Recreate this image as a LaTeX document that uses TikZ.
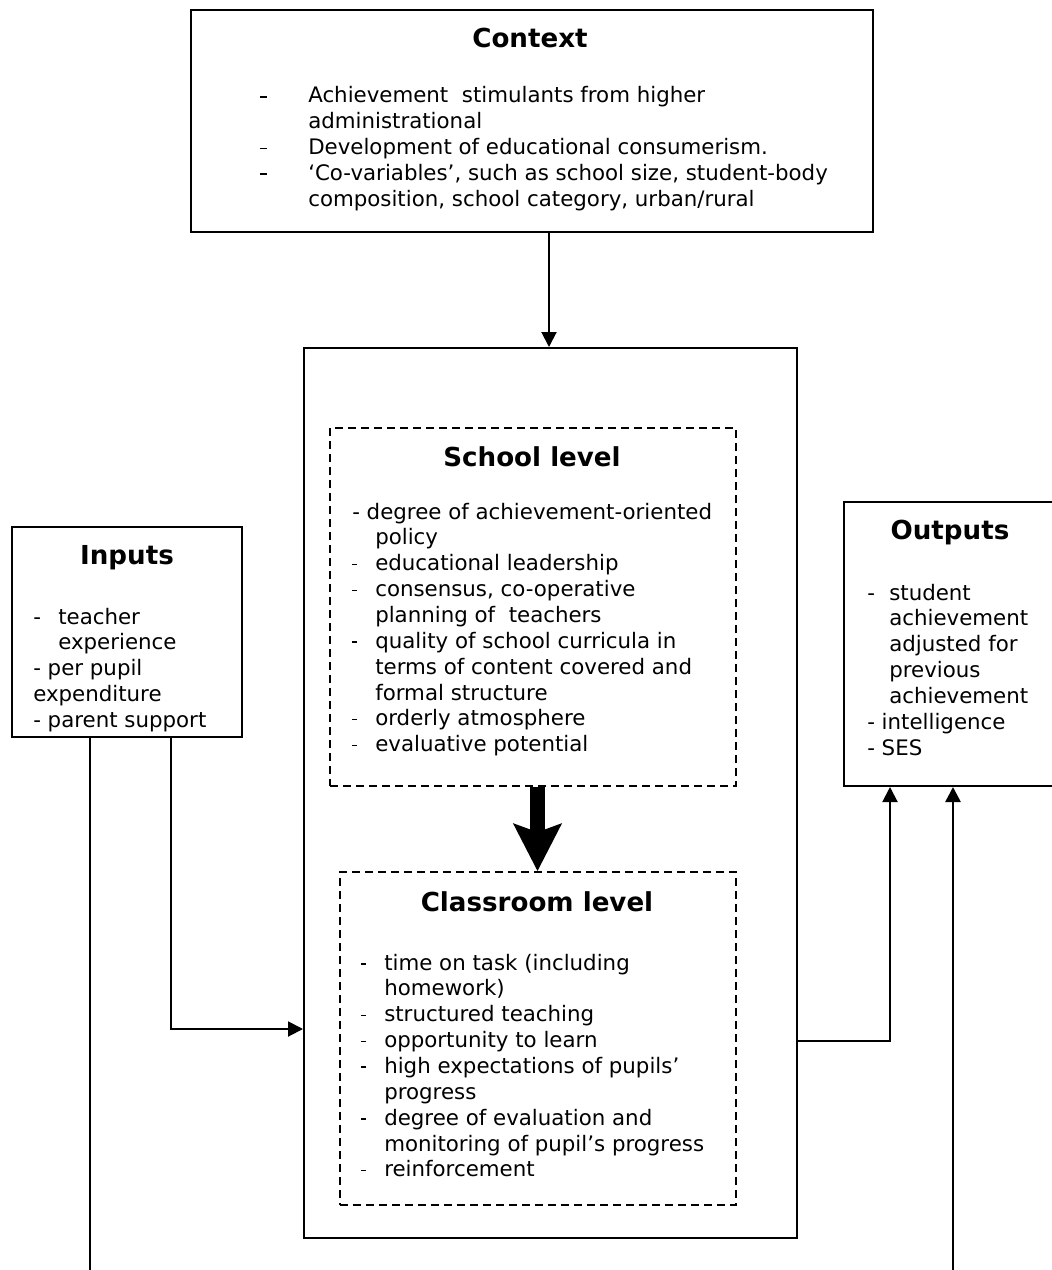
\documentclass[tikz,border=0pt]{standalone}
\usepackage{fontspec}
\setmainfont{DejaVu Sans}
\usetikzlibrary{arrows.meta,fit}
\newlength\upx
\setlength\upx{0.75pt}
% short list bullet
\newcommand\tick[1]{\rule[5.5\upx]{#1}{1.6\upx}}
\newcommand\full[1]{\multicolumn{2}{@{}l@{}}{#1}}
\begin{document}
\begin{tikzpicture}[x=1\upx,y=-1\upx,
  box/.style={draw,line width=2\upx,inner sep=0pt},
  dbox/.style={draw,line width=1.6\upx,dash pattern=on 8\upx off 5\upx,inner sep=0pt},
  title/.style={inner sep=0pt,font=\fontsize{19.6pt}{23pt}\selectfont\bfseries},
  list/.style={inner sep=0pt,anchor=base west,font=\fontsize{16pt}{19.4pt}\selectfont},
  link/.style={line width=2\upx},
  conn/.style={link,-{Triangle[length=11.25pt,width=11.25pt]}},
  bigarrow/.style={line width=15\upx,-{Stealth[length=35.25pt,width=35.25pt,inset=6pt]}}]
\useasboundingbox (0,0) rectangle (1052,1270);
\clip (0,0) rectangle (1052,1270);

% frames
\node[box,fit={(191,10) (873,232)}] (ctx) {};
\node[box,fit={(304,348) (797,1238)}] (main) {};
\node[dbox,fit={(330,428) (736,786)}] (school) {};
\node[dbox,fit={(340,872) (736,1205)}] (class) {};
\node[box,fit={(12,527) (242,737)}] (inp) {};
\node[box,fit={(844,502) (1064,786)}] (out) {};

% Context
\node[title,anchor=base] (ctxT) at (530,48) {Context};
\node[list] (ctxL) at (260,103) {\begin{tabular}[t]{@{}p{48\upx}@{}l@{}}
\tick{7\upx} & Achievement~ stimulants from higher\\
 & administrational\\
\tick{7\upx} & Development of educational consumerism.\\
\tick{7\upx} & ‘Co-variables’, such as school size, student-body\\
 & composition, school category, urban/rural
\end{tabular}};

% School level
\node[title,anchor=base] (schT) at (532,466) {School level};
\node[list] (schL) at (352,519) {\begin{tabular}[t]{@{}p{23\upx}@{}l@{}}
\full{- degree of achievement-oriented}\\
 & policy\\
\tick{5\upx} & educational leadership\\
\tick{5\upx} & consensus, co-operative\\
 & planning of~ teachers\\
\tick{5\upx} & quality of school curricula in\\
 & terms of content covered and\\
 & formal structure\\
\tick{5\upx} & orderly atmosphere\\
\tick{5\upx} & evaluative potential
\end{tabular}};

% Classroom level
\node[title,anchor=base] (clsT) at (537,911) {Classroom level};
\node[list] (clsL) at (361,970) {\begin{tabular}[t]{@{}p{23\upx}@{}l@{}}
\tick{5\upx} & time on task (including\\
 & homework)\\
\tick{5\upx} & structured teaching\\
\tick{5\upx} & opportunity to learn\\
\tick{5\upx} & high expectations of pupils’\\
 & progress\\
\tick{5\upx} & degree of evaluation and\\
 & monitoring of pupil’s progress\\
\tick{5\upx} & reinforcement
\end{tabular}};

% Inputs
\node[title,anchor=base] (inT) at (127,564) {Inputs};
\node[list] (inL) at (33,624) {\begin{tabular}[t]{@{}p{25\upx}@{}l@{}}
- & teacher\\
 & experience\\
\full{- per pupil}\\
\full{expenditure}\\
\full{- parent support}
\end{tabular}};

% Outputs
\node[title,anchor=base] (outT) at (950,539) {Outputs};
\node[list] (outL) at (867,600) {\begin{tabular}[t]{@{}p{22\upx}@{}l@{}}
- & student\\
 & achievement\\
 & adjusted for\\
 & previous\\
 & achievement\\
\full{- intelligence}\\
\full{- SES}
\end{tabular}};

% connector columns and rows
\coordinate (cx) at (549,0);
\coordinate (ax) at (537.5,0);
\coordinate (in1) at (90,0);
\coordinate (in2) at (171,0);
\coordinate (yin) at (0,1029);
\coordinate (out1) at (890,0);
\coordinate (out2) at (953,0);
\coordinate (yout) at (0,1041);
\coordinate (floor) at (0,1280);

% connectors
\draw[conn] (ctx.south -| cx) -- (main.north -| cx);
\draw[bigarrow] (school.south -| ax) -- (class.north -| ax);
\draw[conn] (inp.south -| in2) -- (in2 |- yin) -- (main.west |- yin);
\draw[link] (inp.south -| in1) -- (in1 |- floor);
\draw[conn] (main.east |- yout) -- (out1 |- yout) -- (out.south -| out1);
\draw[conn,line width=2.5\upx] (out2 |- floor) -- (out.south -| out2);
\end{tikzpicture}
\end{document}
